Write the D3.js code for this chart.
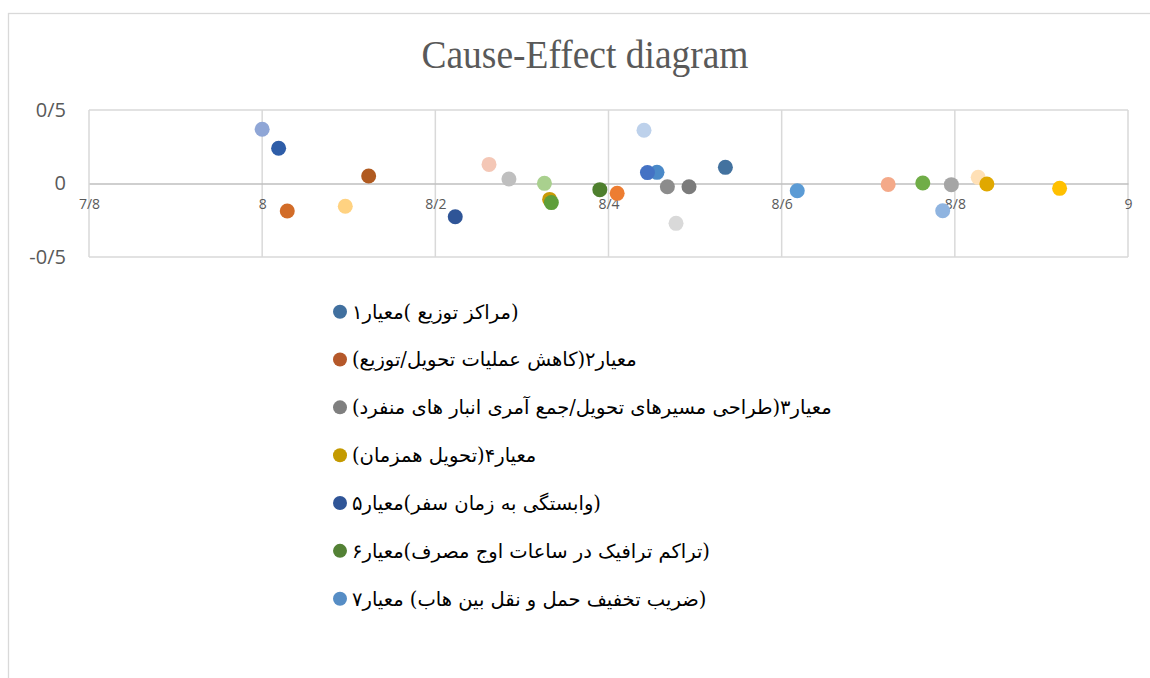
<!DOCTYPE html>
<html>
<head>
<meta charset="utf-8">
<script src="https://cdn.jsdelivr.net/npm/d3@7"></script>
<style>
  html, body { margin: 0; padding: 0; background: #ffffff; }
  svg { display: block; }
</style>
</head>
<body>
<svg id="chart" width="1150" height="678"></svg>
<script>
// ---------- data ----------
const chartTitle = "Cause-Effect diagram";

const seriesNames = [
  "(مراکز توزیع )معیار۱",
  "معیار۲(کاهش عملیات تحویل/توزیع)",
  "معیار۳(طراحی مسیرهای تحویل/جمع آمری انبار های منفرد)",
  "معیار۴(تحویل همزمان)",
  "(وابستگی به زمان سفر)معیار۵",
  "(تراکم ترافیک در ساعات اوج مصرف)معیار۶",
  "(ضریب تخفیف حمل و نقل بین هاب) معیار۷"
];
const seriesColors = ["#41709F", "#B5582A", "#7F7F7F", "#C49A00", "#2F5597", "#538135", "#568DC5"];

// scatter points (x, y), in drawing order
const pointX = [8.000, 8.019, 8.123, 8.029, 8.096, 8.223, 8.262, 8.285, 8.326, 8.332,
                8.334, 8.390, 8.410, 8.441, 8.456, 8.445, 8.468, 8.493, 8.478, 8.535,
                8.618, 8.723, 8.763, 8.796, 8.786, 8.827, 8.837, 8.921];
const pointY = [0.369, 0.240, 0.051, -0.187, -0.155, -0.226, 0.130, 0.031, 0.001, -0.108,
                -0.130, -0.042, -0.067, 0.362, 0.076, 0.074, -0.022, -0.022, -0.271, 0.110,
                -0.049, -0.006, 0.003, -0.008, -0.185, 0.042, -0.003, -0.033];
const pointColors = ["#8FA6D6", "#2E5DA8", "#B05A20", "#D26C28", "#FFD281", "#2F5597", "#F4C7B6", "#BFBFBF", "#A9D08E", "#C99A06",
                     "#5E9E3A", "#4E7F2E", "#ED7D31", "#BDD1EB", "#4A89C8", "#4472C4", "#8C8C8C", "#7B7B7B", "#D9D9D9", "#43729F",
                     "#5B9BD5", "#F4A989", "#70AD47", "#A5A5A5", "#8FB4E0", "#FFE0B6", "#E0A800", "#FFC000"];

const xTicks = [7.8, 8.0, 8.2, 8.4, 8.6, 8.8, 9.0];
const xTickLabels = ["7/8", "8", "8/2", "8/4", "8/6", "8/8", "9"];
const yTicks = [-0.5, 0, 0.5];
const yTickLabels = ["-0/5", "0", "0/5"];

// ---------- layout ----------
const svg = d3.select("#chart");
const plot = { left: 89, right: 1128, top: 110, bottom: 257 };

const x = d3.scaleLinear().domain([7.8, 9.0]).range([plot.left, plot.right]);
const y = d3.scaleLinear().domain([-0.5, 0.5]).range([plot.bottom, plot.top]);

// chart area border
svg.append("rect")
  .attr("x", 8.5).attr("y", 13.5)
  .attr("width", 1300).attr("height", 800)
  .attr("fill", "#ffffff")
  .attr("stroke", "#D9D9D9").attr("stroke-width", 1.3);

// title
svg.append("text")
  .attr("x", 585).attr("y", 68)
  .attr("text-anchor", "middle")
  .attr("font-family", "'Liberation Serif', 'Times New Roman', serif")
  .attr("font-size", 40)
  .attr("textLength", 327)
  .attr("lengthAdjust", "spacingAndGlyphs")
  .attr("fill", "#595959")
  .text(chartTitle);

// vertical gridlines
svg.append("g").selectAll("line").data(xTicks).join("line")
  .attr("x1", d => x(d)).attr("x2", d => x(d))
  .attr("y1", plot.top).attr("y2", plot.bottom)
  .attr("stroke", "#D9D9D9").attr("stroke-width", 1.5);

// horizontal gridlines
svg.append("g").selectAll("line").data(yTicks.filter(d => d !== 0)).join("line")
  .attr("x1", plot.left).attr("x2", plot.right)
  .attr("y1", d => y(d)).attr("y2", d => y(d))
  .attr("stroke", "#D9D9D9").attr("stroke-width", 1.5);

// y axis (labels only)
const yAxis = d3.axisLeft(y)
  .tickValues(yTicks)
  .tickFormat((d, i) => yTickLabels[i])
  .tickSize(0).tickPadding(23);
const gy = svg.append("g").attr("transform", `translate(${plot.left},0)`).call(yAxis);
gy.select(".domain").remove();
gy.selectAll("text")
  .attr("font-family", "'Open Sans', 'Liberation Sans', sans-serif")
  .attr("font-size", 20)
  .attr("fill", "#595959");

// x axis crossing at y = 0
const xAxis = d3.axisBottom(x)
  .tickValues(xTicks)
  .tickFormat((d, i) => xTickLabels[i])
  .tickSize(0).tickPadding(16);
const gx = svg.append("g").attr("transform", `translate(0,${y(0)})`).call(xAxis);
gx.select(".domain")
  .attr("stroke", "#BFBFBF").attr("stroke-width", 1.6);
gx.selectAll("text")
  .attr("font-family", "'Open Sans', 'Liberation Sans', sans-serif")
  .attr("font-size", 14)
  .attr("fill", "#595959");

// points
const pts = pointX.map((v, i) => ({ x: v, y: pointY[i], c: pointColors[i] }));
svg.append("g").selectAll("circle").data(pts).join("circle")
  .attr("cx", d => x(d.x))
  .attr("cy", d => y(d.y))
  .attr("r", 7.5)
  .attr("fill", d => d.c);

// legend
const legendRowY = d3.scaleLinear().domain([0, 6]).range([311.7, 598.7]);
const lg = svg.append("g").selectAll("g").data(seriesNames).join("g")
  .attr("transform", (d, i) => `translate(340,${legendRowY(i)})`);
lg.append("circle").attr("r", 7).attr("fill", (d, i) => seriesColors[i]);
lg.append("text")
  .attr("x", 12).attr("dy", "0.35em")
  .attr("direction", "rtl")
  .attr("text-anchor", "end")
  .attr("font-family", "'DejaVu Serif', 'DejaVu Sans', serif")
  .attr("font-size", 19.5)
  .attr("fill", "#000000")
  .text(d => d);
</script>
</body>
</html>
